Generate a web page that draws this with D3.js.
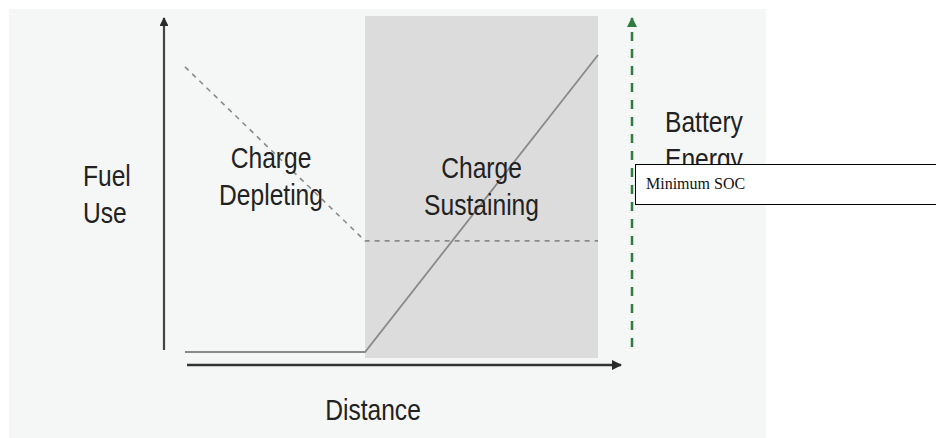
<!DOCTYPE html>
<html>
<head>
<meta charset="utf-8">
<script src="https://cdn.jsdelivr.net/npm/d3@7"></script>
<style>
  body { margin: 0; background: #fff; }
  svg { display: block; }
  .lbl { font-family: "Liberation Sans", Arial, sans-serif; font-size: 30px; fill: #222; }
</style>
</head>
<body>
<svg id="chart" width="936" height="438"></svg>
<script>
// ----------------- DATA ----------------- //
// distance (0-100) where the charge depleting mode ends
var modeBreak = 43.6;
var modeNames = ['Charge Depleting', 'Charge Sustaining'];
// fuel use: nothing while depleting, then rising linearly
var fuelDistance = [0, modeBreak, 100];
var fuelUse = [0, 0, 100];
// battery energy: falling while depleting, then held at minimum SOC
var batteryDistance = [0, modeBreak, 100];
var batteryEnergy = [96, 37.4, 37.4];
var axisLabels = { x: 'Distance', y: ['Fuel', 'Use'], y2: ['Battery', 'Energy'] };
var noteText = 'Minimum SOC';

// ----------------- SCALES ----------------- //
var svg = d3.select('#chart');
var x = d3.scaleLinear().domain([0, 100]).range([185, 598]);
var y = d3.scaleLinear().domain([0, 100]).range([352, 55]);

// panel background
svg.append('rect')
    .attr('x', 9).attr('y', 9)
    .attr('width', 757).attr('height', 429)
    .attr('fill', '#f5f7f6');

// charge sustaining shaded region
svg.append('rect')
    .attr('x', x(modeBreak)).attr('y', 16)
    .attr('width', x(100) - x(modeBreak)).attr('height', 342)
    .attr('fill', '#dcdcdc');

// ----------------- AXES ----------------- //
var defs = svg.append('defs');
function marker(id, color) {
    defs.append('marker')
        .attr('id', id)
        .attr('viewBox', '0 0 10 10')
        .attr('refX', 9).attr('refY', 5)
        .attr('markerWidth', 4).attr('markerHeight', 4)
        .attr('orient', 'auto')
        .append('path')
        .attr('d', 'M0,0 L10,5 L0,10 Z')
        .attr('fill', color);
}
marker('arrowDark', '#2a2a2a');
marker('arrowGreen', '#2e7d3e');

// y axis (fuel use)
svg.append('line')
    .attr('x1', 164).attr('y1', 350)
    .attr('x2', 164).attr('y2', 18)
    .attr('stroke', '#444').attr('stroke-width', 2.2)
    .attr('marker-end', 'url(#arrowDark)');

// x axis (distance)
svg.append('line')
    .attr('x1', x(0) + 2).attr('y1', 365)
    .attr('x2', 621).attr('y2', 365)
    .attr('stroke', '#333').attr('stroke-width', 2.6)
    .attr('marker-end', 'url(#arrowDark)');

// battery energy axis (green dashed)
svg.append('line')
    .attr('x1', 632).attr('y1', 347)
    .attr('x2', 632).attr('y2', 18)
    .attr('stroke', '#2e7d3e').attr('stroke-width', 2.5)
    .attr('stroke-dasharray', '9,8')
    .attr('marker-end', 'url(#arrowGreen)');

// ----------------- LINES ----------------- //
var line = d3.line().x(d => x(d[0])).y(d => y(d[1]));

svg.append('path')
    .datum(d3.zip(batteryDistance, batteryEnergy))
    .attr('d', line)
    .attr('fill', 'none')
    .attr('stroke', '#8a8a8a').attr('stroke-width', 1.6)
    .attr('stroke-dasharray', '5,5');

svg.append('path')
    .datum(d3.zip(fuelDistance, fuelUse))
    .attr('d', line)
    .attr('fill', 'none')
    .attr('stroke', '#8a8a8a').attr('stroke-width', 1.8);

// ----------------- LABELS ----------------- //
// condensed look: squeeze the glyphs horizontally
function label(str, px, baseline, anchor) {
    svg.append('text')
        .attr('class', 'lbl')
        .attr('text-anchor', anchor)
        .attr('transform', 'translate(' + px + ',' + baseline + ') scale(0.82,1)')
        .text(str);
}
function multiline(words, px, baseline, anchor) {
    words.forEach(function (w, i) {
        label(w, px, baseline + i * 37, anchor);
    });
}

multiline(axisLabels.y, 83, 186, 'start');
multiline(modeNames[0].split(' '), (x(0) + x(modeBreak)) / 2 - 4, 168, 'middle');
multiline(modeNames[1].split(' '), (x(modeBreak) + x(100)) / 2, 178, 'middle');
multiline(axisLabels.y2, 665, 132, 'start');
label(axisLabels.x, (x(0) + 621) / 2 - 30, 420, 'middle');

// minimum SOC note box
svg.append('rect')
    .attr('x', 635.5).attr('y', 164.5)
    .attr('width', 310).attr('height', 40)
    .attr('fill', '#fff')
    .attr('stroke', '#000').attr('stroke-width', 1);

svg.append('text')
    .attr('x', 646).attr('y', 189)
    .attr('font-family', '"Liberation Serif", "Times New Roman", serif')
    .attr('font-size', 16)
    .attr('fill', '#111')
    .text(noteText);
</script>
</body>
</html>
